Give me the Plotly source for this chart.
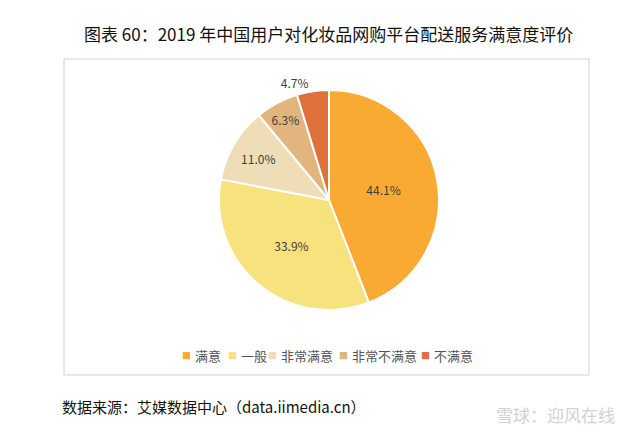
import plotly.graph_objects as go

labels = ["满意", "一般", "非常满意", "非常不满意", "不满意"]
values = [44.1, 33.9, 11.0, 6.3, 4.7]
colors = ["#F9AA33", "#F8E27E", "#EEDDB7", "#E2B57F", "#DE703B"]
positions = ["inside", "inside", "inside", "inside", "outside"]

W, H = 637, 439
cx, cy, r = 329, 200, 110

fig = go.Figure(go.Pie(
    labels=labels, values=values, sort=False, direction="clockwise", rotation=0,
    marker=dict(colors=colors, line=dict(color="white", width=2)),
    texttemplate="%{value:.1f}%", textposition=positions,
    textfont=dict(size=12, color="#404040", family="Noto Sans CJK SC"),
    insidetextorientation="horizontal",
    domain=dict(x=[(cx - r) / W, (cx + r) / W], y=[1 - (cy + r) / H, 1 - (cy - r) / H]),
    hoverinfo="label+percent",
))

# custom compact legend (layout only)
legend_x = [186, 232, 272, 343, 425]
legend_y = 355
annotations = []
for lab, col, lx in zip(labels, colors, legend_x):
    annotations.append(dict(text="■", xref="paper", yref="paper", x=lx / W, y=1 - legend_y / H,
                            xanchor="center", yanchor="middle", showarrow=False,
                            font=dict(size=9, color=col)))
    annotations.append(dict(text=lab, xref="paper", yref="paper", x=(lx + 7) / W, y=1 - legend_y / H,
                            xanchor="left", yanchor="middle", showarrow=False,
                            font=dict(size=13, color="#555555")))

annotations += [
    dict(text="图表 60：2019 年中国用户对化妆品网购平台配送服务满意度评价", xref="paper", yref="paper",
         x=328 / W, y=1 - 33 / H, xanchor="center", yanchor="middle", showarrow=False,
         font=dict(size=17, color="#111111")),
    dict(text="数据来源：艾媒数据中心（data.iimedia.cn）", xref="paper", yref="paper",
         x=60 / W, y=1 - 406 / H, xanchor="left", yanchor="middle", showarrow=False,
         font=dict(size=15, color="#111111")),
    dict(text="雪球：迎风在线", xref="paper", yref="paper",
         x=617 / W, y=1 - 414 / H, xanchor="right", yanchor="middle", showarrow=False,
         font=dict(size=17, color="#D2D2D2")),
]

fig.update_layout(
    width=W, height=H, margin=dict(l=0, r=0, t=0, b=0),
    paper_bgcolor="white", plot_bgcolor="white",
    font=dict(family="Noto Sans CJK SC", color="#333333"),
    showlegend=False,
    shapes=[dict(type="rect", xref="paper", yref="paper",
                 x0=64 / W, x1=589 / W, y0=1 - 375 / H, y1=1 - 59 / H,
                 line=dict(color="#D0D0D0", width=1))],
    annotations=annotations,
)

fig.write_html("out.html")
